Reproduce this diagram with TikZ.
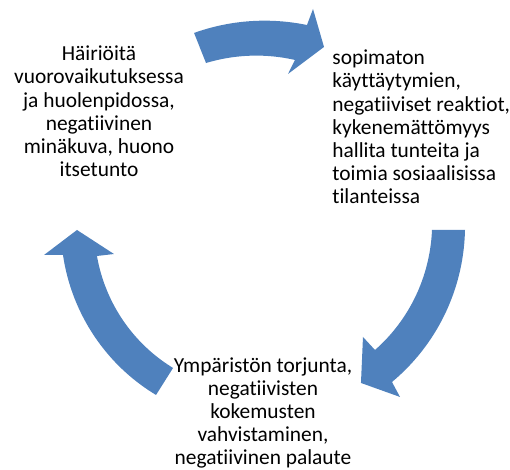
\documentclass[tikz,border=0pt]{standalone}
\usepackage{fontspec}
\setmainfont[Ligatures=NoCommon]{Carlito}
\definecolor{arrowblue}{HTML}{4F81BD}
\begin{document}
\begin{tikzpicture}[x=0.5pt,y=0.5pt,
  cyclearrow/.style={fill=arrowblue, draw=none},
  cyclelabel/.style={font=\fontsize{10.7pt}{11.6pt}\selectfont, text=black, inner sep=0pt}]
\useasboundingbox (0,0) rectangle (510,470);
% texts (anchor base = baseline of the last line)
\node[cyclelabel, anchor=base, align=center] (self) at (99,293.3)
  {Häiriöitä\\vuorovaikutuksessa\\ja huolenpidossa,\\negatiivinen\\minäkuva, huono\\itsetunto};
\node[cyclelabel, anchor=base west, align=left] (behaviour) at (332,266)
  {sopimaton\\käyttäytymien,\\negatiiviset reaktiot,\\kykenemättömyys\\hallita tunteita ja\\toimia sosiaalisissa\\tilanteissa};
\node[cyclelabel, anchor=base, align=center] (environment) at (263,5)
  {Ympäristön torjunta,\\negatiivisten\\kokemusten\\vahvistaminen,\\negatiivinen palaute};
% arrows
\begin{scope}[shift={(260,240)}]
\fill[cyclearrow] plot[domain=108.5:77.09,samples=40] ({\x}:{207.8+2.5*(\x-108.5)/(77.09-108.5)})
  -- (76.51:227.3) -- (70.72:193.9) -- (79.82:158.5)
  -- plot[domain=78.37:107.92,samples=40] ({\x}:{173.6+1.9*(\x-78.37)/(107.92-78.37)}) -- cycle;
\fill[cyclearrow] plot[domain=0:-49.03,samples=40] ({\x}:{205-3.7*(\x)/(-49.03)})
  -- (-50.02:217.9) -- (-56.57:183.3) -- (-46.09:148.5)
  -- plot[domain=-46.22:0,samples=40] ({\x}:{166.2+5.8*(\x+46.22)/46.22}) -- cycle;
\fill[cyclearrow] plot[domain=237.78:187.23,samples=40] ({\x}:{195+3.6*(\x-237.78)/(187.23-237.78)})
  -- (186.6:217.4) -- (180:183) -- (189.34:148)
  -- plot[domain=189.06:237.78,samples=40] ({\x}:{165.1-2*(\x-189.06)/(237.78-189.06)}) -- cycle;
\end{scope}
\end{tikzpicture}
\end{document}
